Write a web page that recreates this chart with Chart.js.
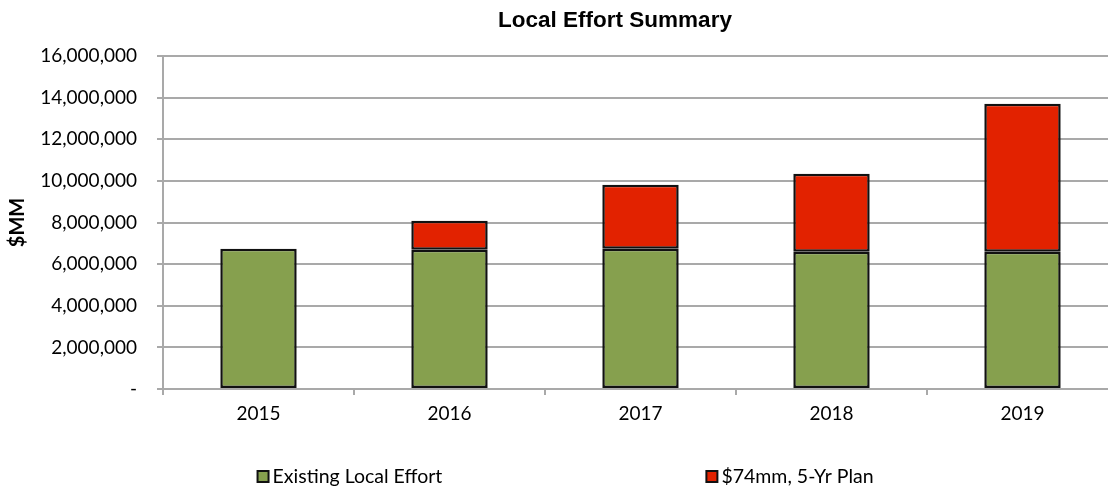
<!DOCTYPE html>
<html>
<head>
<meta charset="utf-8">
<title>Local Effort Summary</title>
<script src="https://cdn.jsdelivr.net/npm/chart.js@4.4.1/dist/chart.umd.min.js"></script>
<style>
  html, body { margin: 0; padding: 0; background: #fff; overflow: hidden; }
  #wrap { width: 1120px; height: 488px; }
</style>
</head>
<body>
<div id="wrap">
  <canvas id="effortChart" width="1120" height="488"></canvas>
</div>
<script>
const years = ['2015', '2016', '2017', '2018', '2019'];
const existingEffort = [6740000, 6690000, 6740000, 6600000, 6600000];
const fiveYearPlan = [null, 1390000, 3070000, 3740000, 7100000];
const yTicks = [0, 2000000, 4000000, 6000000, 8000000, 10000000, 12000000, 14000000, 16000000];

const chartTitle = 'Local Effort Summary';
const labelFont = 'Lato, "Open Sans", sans-serif';
const gridColor = '#a9a9a9';

// Excel-style title and legend are drawn by hand so they sit where we want them
const titlePlugin = {
  id: 'summaryTitle',
  afterDraw(chart) {
    const ctx = chart.ctx;
    ctx.save();
    ctx.font = 'bold 22.5px "Liberation Sans", Arial, sans-serif';
    ctx.fillStyle = '#000';
    ctx.textAlign = 'center';
    ctx.textBaseline = 'middle';
    ctx.fillText(chartTitle, 615, 21);
    ctx.restore();
  }
};

const legendPlugin = {
  id: 'wideLegend',
  afterDraw(chart) {
    const ctx = chart.ctx;
    const area = chart.chartArea;
    const starts = [0.099, 0.569];
    const y = 477;
    ctx.save();
    ctx.font = '19.5px ' + labelFont;
    ctx.textBaseline = 'middle';
    ctx.textAlign = 'left';
    chart.data.datasets.forEach((ds, i) => {
      const x = area.left + area.width * starts[i];
      ctx.fillStyle = ds.backgroundColor;
      ctx.fillRect(x, y - 6, 11, 11);
      ctx.lineWidth = 2;
      ctx.strokeStyle = '#111';
      ctx.strokeRect(x, y - 6, 11, 11);
      ctx.fillStyle = '#000';
      ctx.fillText(ds.label, x + 15, y);
    });
    ctx.restore();
  }
};

const ctx = document.getElementById('effortChart').getContext('2d');
new Chart(ctx, {
  type: 'bar',
  data: {
    labels: years,
    datasets: [
      {
        label: 'Existing Local Effort',
        data: existingEffort,
        backgroundColor: '#86a04e',
        borderColor: '#111',
        borderWidth: 2.5,
        borderSkipped: false
      },
      {
        label: '$74mm, 5-Yr Plan',
        data: fiveYearPlan,
        backgroundColor: '#e22200',
        borderColor: '#111',
        borderWidth: 2.5,
        borderSkipped: false
      }
    ]
  },
  options: {
    responsive: false,
    animation: false,
    barPercentage: 0.4,
    categoryPercentage: 1.0,
    layout: { padding: { top: 56, right: 2, bottom: 59, left: 0 } },
    plugins: {
      legend: { display: false },
      title: { display: false },
      tooltip: { enabled: false }
    },
    scales: {
      x: {
        stacked: true,
        offset: true,
        afterFit: scale => { scale.height = 40; },
        grid: {
          display: true,
          offset: true,
          drawOnChartArea: false,
          drawTicks: true,
          tickLength: 6,
          color: gridColor,
          lineWidth: 2
        },
        border: { display: true, color: gridColor, width: 2 },
        ticks: {
          color: '#000',
          padding: 7,
          font: { family: labelFont, size: 19 }
        }
      },
      y: {
        stacked: true,
        min: 0,
        max: 16000000,
        afterFit: scale => { scale.width = 163; },
        afterBuildTicks: scale => {
          scale.ticks = yTicks.map(v => ({ value: v }));
        },
        grid: {
          color: gridColor,
          lineWidth: 2,
          drawTicks: true,
          tickLength: 6
        },
        border: { display: true, color: gridColor, width: 2 },
        ticks: {
          color: '#000',
          padding: 20,
          font: { family: labelFont, size: 19 },
          callback: value => value === 0 ? '-' : value.toLocaleString('en-US')
        },
        title: {
          display: true,
          text: '$MM',
          color: '#000',
          padding: { top: 6, bottom: 0 },
          font: { family: labelFont, size: 20, weight: 'bold' }
        }
      }
    }
  },
  plugins: [titlePlugin, legendPlugin]
});
</script>
</body>
</html>
